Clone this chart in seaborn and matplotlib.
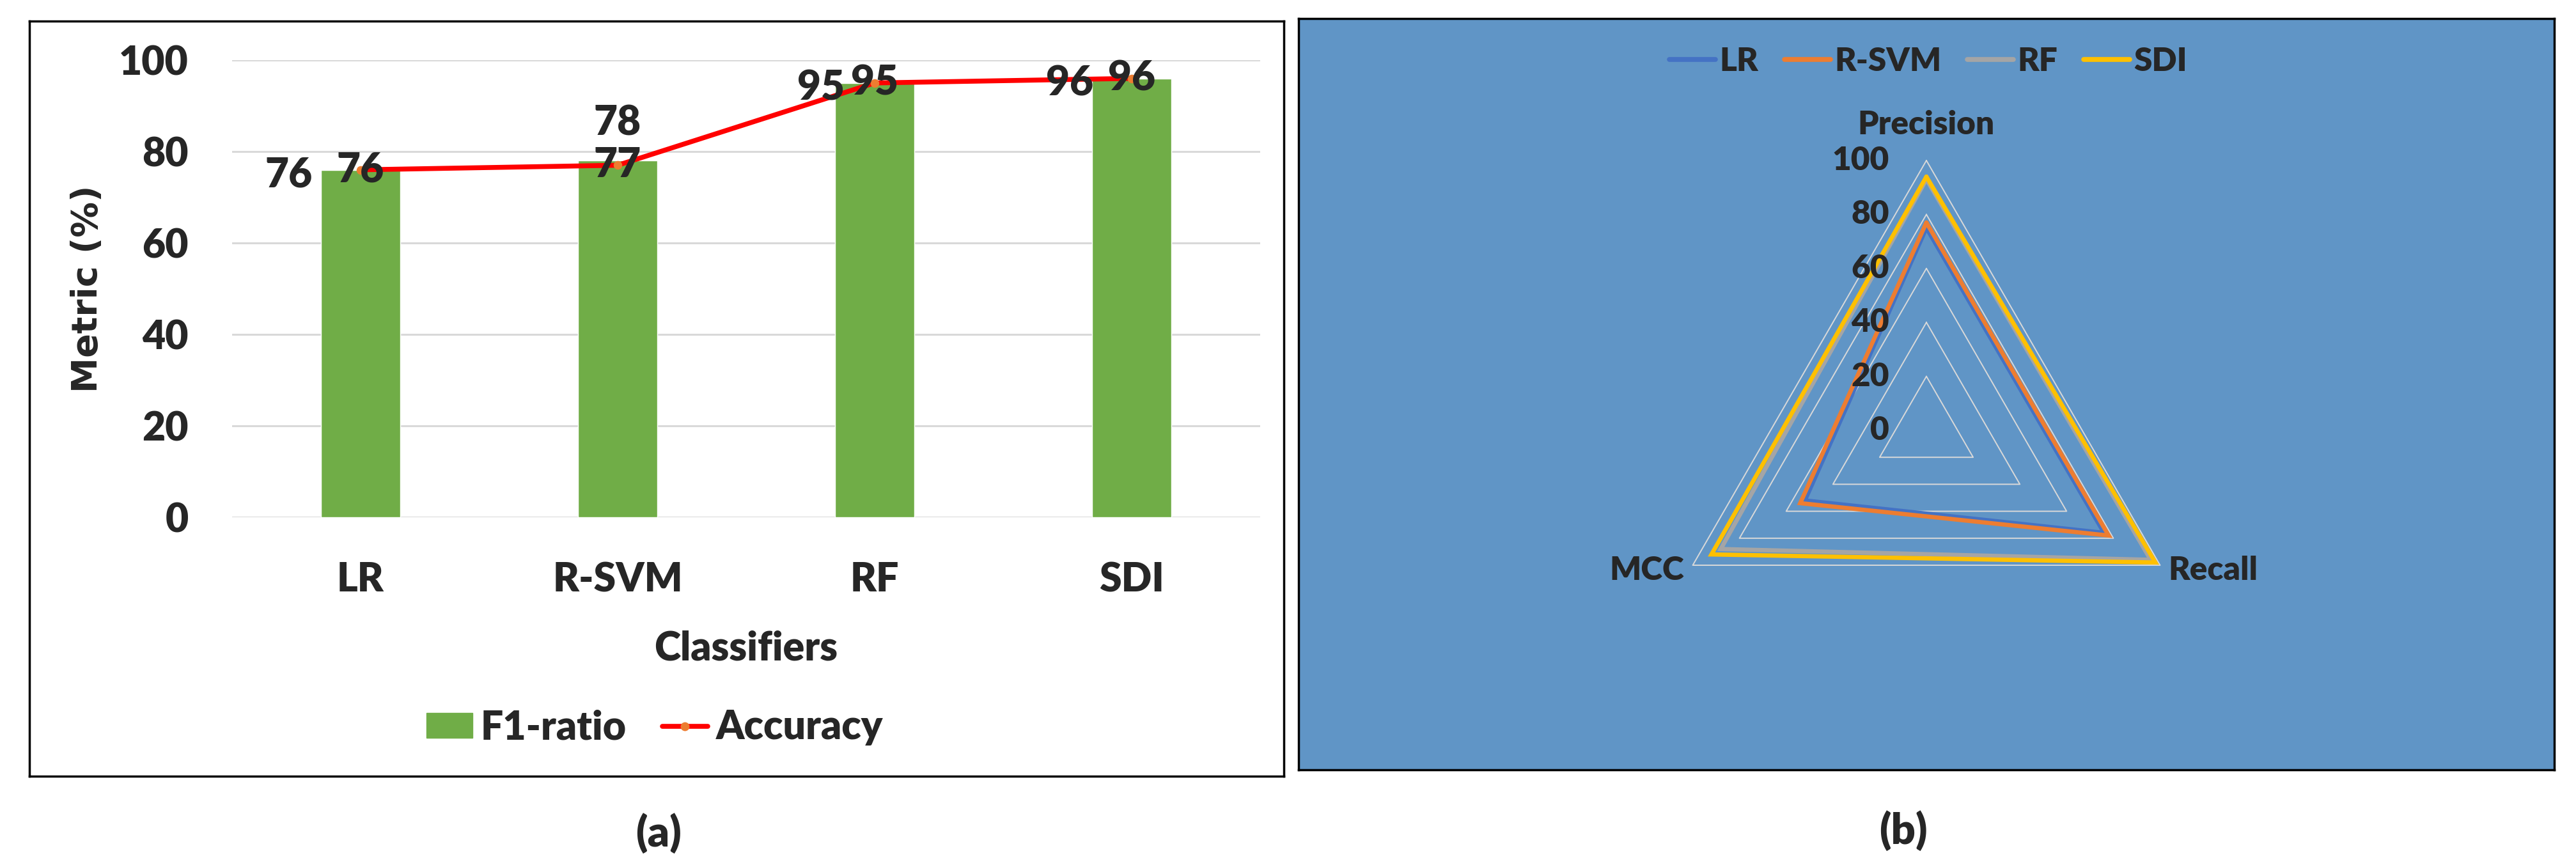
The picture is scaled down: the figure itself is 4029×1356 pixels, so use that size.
import numpy as np
import pandas as pd
import seaborn as sns
import matplotlib.pyplot as plt
from matplotlib.lines import Line2D
from matplotlib.patches import Patch

# panel (a) data
classifiers = ['LR', 'R-SVM', 'RF', 'SDI']
f1_ratio = [76, 78, 95, 96]
accuracy = [76, 77, 95, 96]

# panel (b) data
radar_axes = ['Precision', 'Recall', 'MCC']
lr_scores = [75, 76, 52]
rsvm_scores = [77, 78, 54]
rf_scores = [93, 96, 88]
sdi_scores = [94, 98, 92]
radar_ticks = [0, 20, 40, 60, 80, 100]

W, H = 4030, 1356
BOLD = 'bold'
HEAVY = 'heavy'


# pixel box (x0, y0, x1, y1 from top-left) -> figure fraction rect
def px_box(x0, y0, x1, y1):
    return [x0 / W, 1 - y1 / H, (x1 - x0) / W, (y1 - y0) / H]


def frame(fig, box, face):
    a = fig.add_axes(px_box(*box), zorder=0)
    a.set_facecolor(face)
    a.set_xticks([])
    a.set_yticks([])
    for s in a.spines.values():
        s.set_visible(True)
        s.set_color('black')
        s.set_linewidth(2.5)
    return a


sns.set_style('white')
plt.rcParams['font.family'] = ['Lato', 'DejaVu Sans']
plt.rcParams['font.weight'] = HEAVY
plt.rcParams['axes.labelweight'] = HEAVY

fig = plt.figure(figsize=(W / 100, H / 100), dpi=100)

frame(fig, (46, 33, 2008, 1214), 'white')
frame(fig, (2031, 29, 3995, 1204), '#6095C6')

# ---------------- (a) bar + line ----------------
ax = fig.add_axes(px_box(363, 94, 1971, 809), zorder=1)
ax.patch.set_alpha(0)
df = pd.DataFrame({'clf': classifiers, 'f1': f1_ratio, 'acc': accuracy})
sns.barplot(data=df, x='clf', y='f1', color='#70AD47', saturation=1,
            width=0.31, ax=ax, zorder=2)
pos = np.arange(len(classifiers))
sns.lineplot(x=pos, y=accuracy, ax=ax, color='#FF0000', lw=5.5, sort=False,
             marker='o', markersize=9, markerfacecolor='#ED7D31',
             markeredgecolor='#ED7D31', zorder=3)

# data labels: bar labels pushed aside, line labels sit on the points
bar_shift = [(-0.28, -1.2), (0.0, 8.2), (-0.21, -1.2), (-0.24, -1.2)]
for i, (v, (dx, dy)) in enumerate(zip(f1_ratio, bar_shift)):
    ax.text(i + dx, v + dy, str(v), ha='center', va='center', fontsize=46,
            fontweight=HEAVY, zorder=4)
for i, v in enumerate(accuracy):
    ax.text(i, v, str(v), ha='center', va='center', fontsize=46,
            fontweight=HEAVY, zorder=4)

ax.set_xlim(-0.5, 3.5)
ax.set_ylim(0, 100)
ax.set_yticks(range(0, 101, 20))
ax.set_axisbelow(True)
ax.grid(axis='y', color='#D9D9D9', lw=2.2)
ax.grid(axis='x', visible=False)
sns.despine(ax=ax, left=True, bottom=True)
ax.tick_params(length=0, labelsize=45)
ax.tick_params(axis='y', pad=49)
ax.tick_params(axis='x', pad=50)
for lab in ax.get_xticklabels() + ax.get_yticklabels():
    lab.set_fontweight(HEAVY)
ax.set_xlabel('Classifiers', fontsize=45, fontweight=HEAVY, labelpad=36)
ax.set_ylabel('Metric (%)', fontsize=40, fontfamily='DejaVu Sans',
              fontweight=BOLD, labelpad=16)

leg_a = [Patch(color='#70AD47'),
         Line2D([], [], color='#FF0000', lw=5.5, marker='o', ms=9,
                mfc='#ED7D31', mec='#ED7D31')]
fig.legend(leg_a, ['F1-ratio', 'Accuracy'], loc='center',
           bbox_to_anchor=(1024 / W, 1 - 1138 / H), ncol=2, frameon=False,
           prop={'size': 45, 'weight': HEAVY}, handlelength=1.15, handleheight=0.6,
           handletextpad=0.2, columnspacing=0.9)

# ---------------- (b) radar ----------------
cx, cy, R = 3013, 673, 422
pax = fig.add_axes(px_box(cx - R, cy - R, cx + R, cy + R), projection='polar', zorder=1)
pax.patch.set_alpha(0)
pax.set_theta_offset(np.pi / 2)
pax.set_theta_direction(-1)
pax.grid(False)
pax.spines['polar'].set_visible(False)
pax.set_xticks([])
pax.set_yticks([])

theta = np.linspace(0, 2 * np.pi, len(radar_axes), endpoint=False)
closed = np.append(theta, theta[0])
for r in radar_ticks[1:]:
    pax.plot(closed, [r] * len(closed), color='#D9D9D9', lw=1.4, clip_on=False)

series = [('LR', lr_scores, '#4472C4'), ('R-SVM', rsvm_scores, '#ED7D31'),
          ('RF', rf_scores, '#A5A5A5'), ('SDI', sdi_scores, '#FFC000')]
for name, vals, col in series:
    pax.plot(closed, vals + vals[:1], color=col, lw=4.8,
             solid_joinstyle='miter', clip_on=False)
pax.set_ylim(0, 100)

for r in radar_ticks:
    pax.annotate(str(r), xy=(0, r), xytext=(-42, 0), textcoords='offset points',
                 ha='right', va='center', fontsize=37, fontweight=HEAVY,
                 annotation_clip=False)

label_offsets = [(0, 40, 'center'), (9, -6, 'left'), (-10, -6, 'right')]
for t, name, (ox, oy, ha) in zip(theta, radar_axes, label_offsets):
    pax.annotate(name, xy=(t, 100), xytext=(ox, oy), textcoords='offset points',
                 ha=ha, va='center', fontsize=37, fontweight=HEAVY,
                 annotation_clip=False)

leg_b = [Line2D([], [], color=col, lw=5.5, solid_capstyle='round') for _, _, col in series]
fig.legend(leg_b, [s[0] for s in series], loc='center',
           bbox_to_anchor=(3016 / W, 1 - 96 / H), ncol=4, frameon=False,
           prop={'size': 37, 'weight': HEAVY}, handlelength=1.4,
           handletextpad=0.12, columnspacing=0.8)

fig.text(1030 / W, 1 - 1303 / H, '(a)', ha='center', va='center', fontsize=48,
         fontweight=HEAVY)
fig.text(2977 / W, 1 - 1299 / H, '(b)', ha='center', va='center', fontsize=48,
         fontweight=HEAVY)

fig.savefig('out.png', dpi=100)
